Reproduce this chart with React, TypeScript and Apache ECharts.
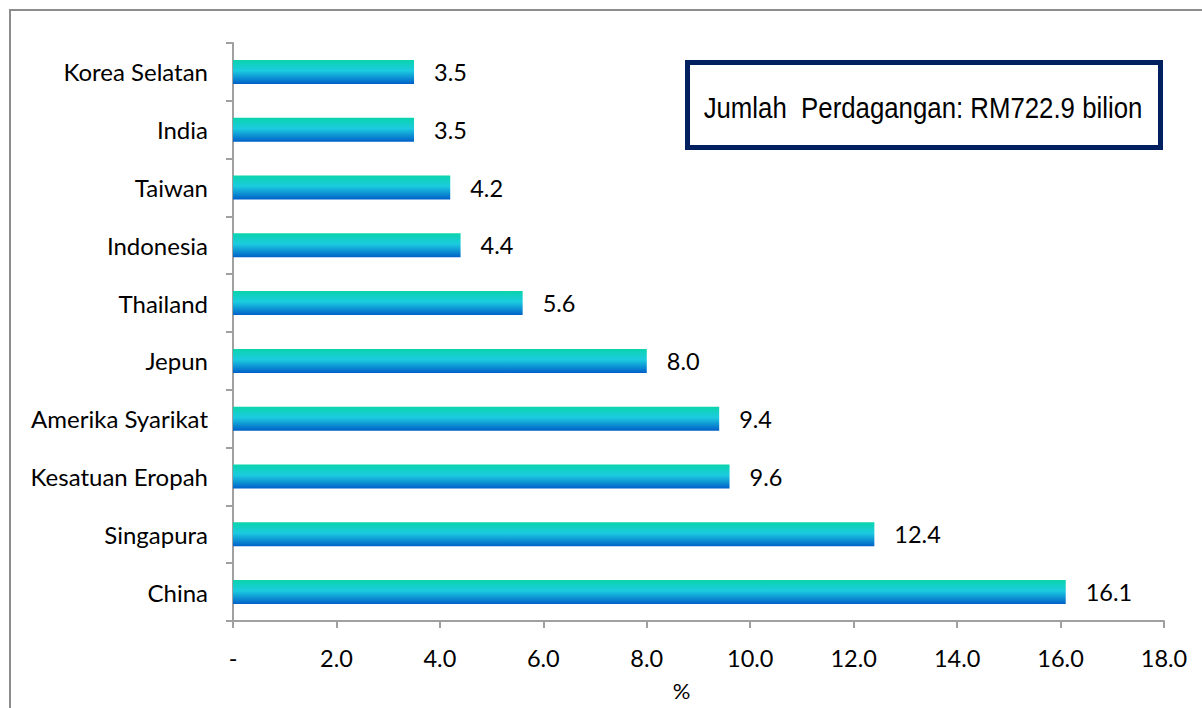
import React, { useEffect, useRef } from "react";
import * as echarts from "echarts";

const categories = [
  "Korea Selatan",
  "India",
  "Taiwan",
  "Indonesia",
  "Thailand",
  "Jepun",
  "Amerika Syarikat",
  "Kesatuan Eropah",
  "Singapura",
  "China",
];
const values = [3.5, 3.5, 4.2, 4.4, 5.6, 8.0, 9.4, 9.6, 12.4, 16.1];
const axisMin = 0;
const axisMax = 18;
const axisInterval = 2;
const axisName = "%";
const boxText = "Jumlah  Perdagangan: RM722.9 bilion";

const FONT = "Lato";

export default function App() {
  const ref = useRef<HTMLDivElement>(null);
  useEffect(() => {
    if (!ref.current) return;
    const chart = echarts.init(ref.current, undefined, { renderer: "svg" });
    const fmt = (v: number) => (v === 0 ? "-" : v.toFixed(1));
    chart.setOption({
      animation: false,
      backgroundColor: "#ffffff",
      grid: { left: 233, right: 38, top: 43, bottom: 87, containLabel: false },
      xAxis: {
        type: "value",
        min: axisMin,
        max: axisMax,
        interval: axisInterval,
        name: axisName,
        nameLocation: "middle",
        nameGap: 58,
        nameTextStyle: { fontFamily: FONT, fontSize: 22, color: "#000", padding: [0, 34, 0, 0] },
        axisLine: { show: true, lineStyle: { color: "#a0a0a0", width: 2 } },
        axisTick: { show: true, length: 7, lineStyle: { color: "#a0a0a0", width: 2 } },
        splitLine: { show: false },
        axisLabel: {
          formatter: (v: number) => fmt(v),
          fontFamily: FONT,
          fontSize: 23.5,
          color: "#000",
          margin: 25,
        },
      },
      yAxis: {
        type: "category",
        data: categories,
        inverse: true,
        axisLine: { show: true, lineStyle: { color: "#a0a0a0", width: 2 } },
        axisTick: { show: true, length: 7, lineStyle: { color: "#a0a0a0", width: 2 } },
        axisLabel: { fontFamily: FONT, fontSize: 24, color: "#000", margin: 25 },
      },
      series: [
        {
          type: "bar",
          data: values,
          barWidth: 24,
          itemStyle: {
            color: new echarts.graphic.LinearGradient(0, 0, 0, 1, [
              { offset: 0, color: "#0ad4ac" },
              { offset: 0.45, color: "#1ccbe0" },
              { offset: 1, color: "#0060c8" },
            ]),
          },
          label: {
            show: true,
            position: "right",
            distance: 20,
            formatter: (p: any) => fmt(p.value),
            fontFamily: FONT,
            fontSize: 23.5,
            color: "#000",
          },
        },
      ],
      graphic: [
        {
          type: "rect",
          shape: { x: 10, y: 10, width: 1200, height: 710 },
          style: { fill: "none", stroke: "#8c8c8c", lineWidth: 2 },
          silent: true,
        },
        {
          type: "rect",
          shape: { x: 687.5, y: 62.5, width: 473, height: 85 },
          style: { fill: "#ffffff", stroke: "#002060", lineWidth: 5 },
          z: 10,
        },
        {
          type: "text",
          x: 923,
          y: 108,
          scaleX: 0.86,
          style: {
            text: boxText,
            fontFamily: "Liberation Sans",
            fontSize: 30,
            fill: "#000",
            align: "center",
            verticalAlign: "middle",
          },
          z: 11,
        },
      ],
    });
    return () => chart.dispose();
  }, []);
  return (
    <div
      ref={ref}
      style={{ position: "fixed", left: 0, top: 0, width: 1202, height: 708 }}
    />
  );
}
